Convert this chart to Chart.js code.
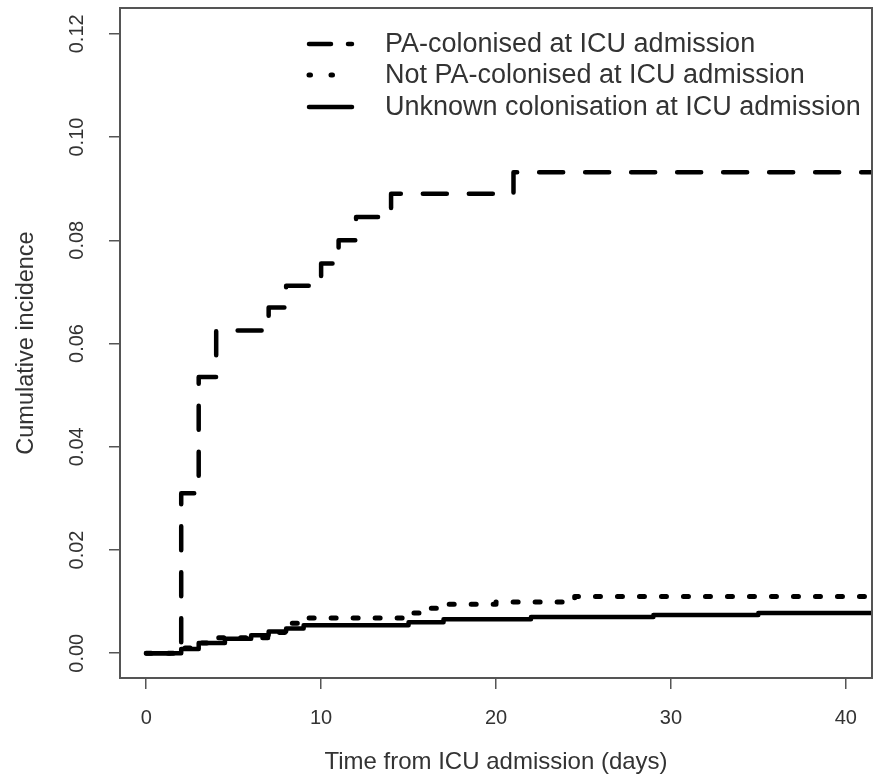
<!DOCTYPE html>
<html>
<head>
<meta charset="utf-8">
<script src="https://cdn.jsdelivr.net/npm/chart.js@4/dist/chart.umd.min.js"></script>
<style>
  html, body { margin: 0; background: #fff; }
  canvas { display: block; }
</style>
</head>
<body>
<canvas id="cif" width="876" height="777"></canvas>
<script>
// Cumulative incidence by colonisation status at ICU admission (step curves).
const FONT = '"Liberation Sans", Arial, sans-serif';
const INK = "#333";
const FRAME = "#555";

const seriesNames = [
  "PA-colonised at ICU admission",
  "Not PA-colonised at ICU admission",
  "Unknown colonisation at ICU admission",
];

// days at which each curve steps, and the value it steps to
const paDays = [0, 2, 3, 4, 7, 8, 10, 11, 12, 14, 21, 42];
const paCif = [0, 0.031, 0.0535, 0.0625, 0.067, 0.0712, 0.0755, 0.080, 0.0845, 0.089, 0.0932, 0.0932];

const notDays = [0, 2, 3, 4, 7, 8, 9, 15, 16, 17, 20, 24.5, 42];
const notCif = [0, 0.001, 0.002, 0.003, 0.004, 0.0058, 0.0068, 0.0078, 0.0087, 0.0095, 0.0099, 0.011, 0.011];

const unkDays = [0, 2, 3, 4.5, 6, 7, 8, 9, 15, 17, 22, 29, 35, 42];
const unkCif = [0, 0.0008, 0.002, 0.0028, 0.0035, 0.0042, 0.0048, 0.0054, 0.006, 0.0066, 0.007, 0.0074, 0.0078, 0.0078];

const xTicks = [0, 10, 20, 30, 40];
const yTicks = [0, 0.02, 0.04, 0.06, 0.08, 0.10, 0.12];

const pts = (xs, ys) => xs.map((x, i) => ({ x, y: ys[i] }));

// line patterns: long dash, dots, solid (round caps add lineWidth to each dash)
const dashes = [[24, 22], [5, 17], []];

const datasets = [
  { label: seriesNames[0], data: pts(paDays, paCif), borderDash: dashes[0], borderWidth: 4.5 },
  { label: seriesNames[1], data: pts(notDays, notCif), borderDash: dashes[1], borderWidth: 5 },
  { label: seriesNames[2], data: pts(unkDays, unkCif), borderDash: dashes[2], borderWidth: 4.5 },
].map(d => ({
  ...d, borderColor: "#000", borderCapStyle: "round",
  borderJoinStyle: "round", pointRadius: 0, stepped: "before", fill: false,
}));

// box round the plot region, rotated y tick labels, and the legend
const framePlugin = {
  id: "frame",
  afterDraw(chart) {
    const { ctx, chartArea: a, scales } = chart;
    ctx.save();
    ctx.strokeStyle = FRAME;
    ctx.lineWidth = 2;
    ctx.strokeRect(a.left, a.top, a.right - a.left, a.bottom - a.top);

    ctx.fillStyle = INK;
    ctx.font = `20px ${FONT}`;
    ctx.textAlign = "center";
    ctx.textBaseline = "middle";
    for (const v of yTicks) {
      const y = scales.y.getPixelForValue(v);
      ctx.save();
      ctx.translate(77, y);
      ctx.rotate(-Math.PI / 2);
      ctx.fillText(v.toFixed(2), 0, 0);
      ctx.restore();
    }

    // legend
    const x0 = 308, x1 = 353, tx = 385;
    const rows = [44, 75, 107];
    const legendDash = [[22, 17], [1.5, 20.5], []];
    ctx.font = `27px ${FONT}`;
    ctx.textAlign = "left";
    rows.forEach((ry, i) => {
      ctx.strokeStyle = "#000";
      ctx.lineWidth = i === 1 ? 5 : 4.5;
      ctx.lineCap = "round";
      ctx.setLineDash(legendDash[i]);
      ctx.beginPath();
      ctx.moveTo(x0 + 1, ry);
      ctx.lineTo(x1 - 1, ry);
      ctx.stroke();
      ctx.setLineDash([]);
      ctx.fillText(seriesNames[i], tx, ry + 1);
    });
    ctx.restore();
  },
};

new Chart(document.getElementById("cif"), {
  type: "line",
  data: { datasets },
  options: {
    responsive: false,
    animation: false,
    devicePixelRatio: 1,
    layout: { padding: { top: 8, right: 4, left: 0, bottom: 0 } },
    plugins: { legend: { display: false }, tooltip: { enabled: false } },
    scales: {
      x: {
        type: "linear",
        min: -1.5,
        max: 41.5,
        afterBuildTicks: s => { s.ticks = xTicks.map(value => ({ value })); },
        afterFit: s => { s.height = 99; },
        grid: { drawOnChartArea: false, drawTicks: true, tickLength: 11, color: FRAME, lineWidth: 1.5 },
        border: { display: false },
        ticks: { color: INK, font: { family: FONT, size: 20 }, padding: 17, maxRotation: 0 },
        title: {
          display: true, text: "Time from ICU admission (days)",
          color: INK, font: { family: FONT, size: 24 }, padding: { top: 4, bottom: 0 },
        },
      },
      y: {
        type: "linear",
        min: -0.0048,
        max: 0.125,
        afterBuildTicks: s => { s.ticks = yTicks.map(value => ({ value })); },
        afterFit: s => { s.width = 120; },
        grid: { drawOnChartArea: false, drawTicks: true, tickLength: 11, color: FRAME, lineWidth: 1.5 },
        border: { display: false },
        ticks: { display: false },
        title: {
          display: true, text: "Cumulative incidence",
          color: INK, font: { family: FONT, size: 23.5 }, padding: { top: 12, bottom: 0 },
        },
      },
    },
  },
  plugins: [framePlugin],
});
</script>
</body>
</html>
